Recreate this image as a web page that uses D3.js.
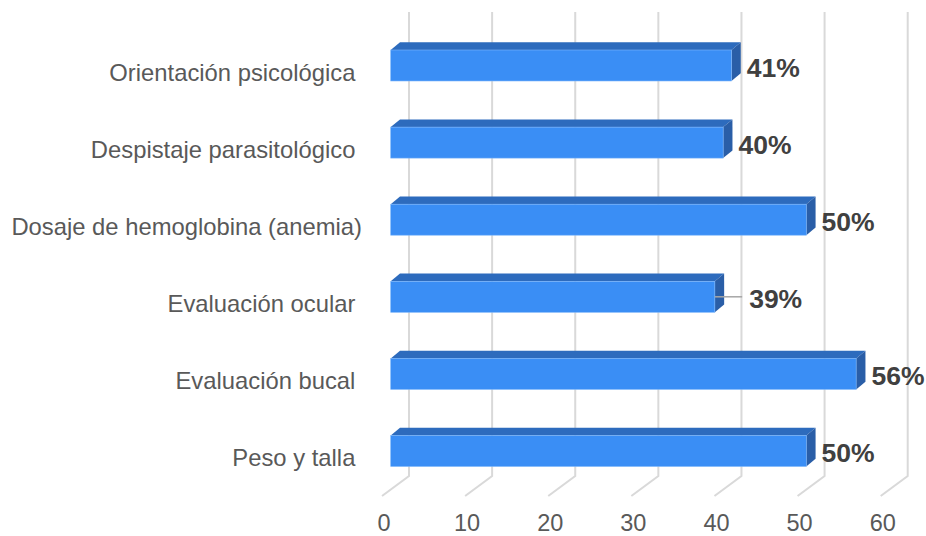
<!DOCTYPE html>
<html>
<head>
<meta charset="utf-8">
<script src="https://cdn.jsdelivr.net/npm/d3@7"></script>
<style>
  html, body { margin: 0; padding: 0; background: #ffffff; }
  svg text { font-family: "Liberation Sans", Arial, sans-serif; white-space: pre; }
</style>
</head>
<body>
<svg id="chart" width="926" height="536"></svg>
<script>
// data
const categories = [
    'Orientación psicológica ',
    'Despistaje parasitológico ',
    'Dosaje de hemoglobina (anemia)',
    'Evaluación ocular ',
    'Evaluación bucal ',
    'Peso y talla '
];
const values = [41, 40, 50, 39, 56, 50];
const valueLabels = ['41%', '40%', '50%', '39%', '56%', '50%'];
const xTicks = [0, 10, 20, 30, 40, 50, 60];

// look
const COLOR_FRONT = '#3a8ef5';
const COLOR_TOP = '#2d6bbd';
const COLOR_SIDE = '#2a5ea7';
const COLOR_GRID = '#d9d9d9';
const COLOR_TEXT = '#595959';
const COLOR_LABEL = '#404040';

// 3d geometry
const FLOOR_Y = 496;
const WALL_DEPTH = { dx: 27, dy: -20 };   // floor diagonal
const BAR_FRONT_DX = 8.7;                 // bar front face sits a bit into the depth
const BAR_DEPTH = { dx: 9.3, dy: -7.7 };  // bar thickness
const GRID_TOP = 12;
const CAT_LABEL_DY = 15;                  // category labels sit on the floor plane, a bit lower
const LEADER_SHIFT = { 'Evaluación ocular ': 19 }; // label pulled out with a leader line

const svg = d3.select('#chart');

const x = d3.scaleLinear()
    .domain([0, 60])
    .range([382, 880.7]);

const y = d3.scaleBand()
    .domain(categories)
    .range([26.95, 489.55])
    .paddingInner(0.598)
    .paddingOuter(0.299);

// gridlines (floor diagonal + back wall vertical)
var grid = svg.append('g').attr('class', 'grid');
grid.selectAll('path')
    .data(xTicks)
    .enter()
    .append('path')
    .attr('d', t => {
        const x0 = x(t), x1 = x(t) + WALL_DEPTH.dx, y1 = FLOOR_Y + WALL_DEPTH.dy;
        return 'M' + x0 + ',' + FLOOR_Y + 'L' + x1 + ',' + y1 + 'L' + x1 + ',' + GRID_TOP;
    })
    .style('fill', 'none')
    .style('stroke', COLOR_GRID)
    .style('stroke-width', 2);

// tick labels
svg.append('g').selectAll('text')
    .data(xTicks)
    .enter()
    .append('text')
    .attr('x', t => x(t) + 2)
    .attr('y', 531)
    .attr('text-anchor', 'middle')
    .style('font-size', '23.5px')
    .style('fill', COLOR_TEXT)
    .text(t => t);

// category labels
svg.append('g').selectAll('text')
    .data(categories)
    .enter()
    .append('text')
    .attr('x', 362)
    .attr('y', d => y(d) + y.bandwidth() / 2 + CAT_LABEL_DY)
    .attr('text-anchor', 'end')
    .style('font-size', '23.8px')
    .style('fill', COLOR_TEXT)
    .text(d => d);

// bars
var rows = categories.map((c, i) => ({ cat: c, value: values[i], label: valueLabels[i] }));

var bars = svg.append('g').selectAll('g')
    .data(rows)
    .enter()
    .append('g');

// top face
bars.append('path')
    .attr('d', d => {
        const xl = x(0) + BAR_FRONT_DX, xr = x(d.value) + BAR_FRONT_DX, yt = y(d.cat);
        return 'M' + xl + ',' + yt + 'L' + (xl + BAR_DEPTH.dx) + ',' + (yt + BAR_DEPTH.dy) +
            'L' + (xr + BAR_DEPTH.dx) + ',' + (yt + BAR_DEPTH.dy) + 'L' + xr + ',' + yt + 'Z';
    })
    .style('fill', COLOR_TOP);

// side face
bars.append('path')
    .attr('d', d => {
        const xr = x(d.value) + BAR_FRONT_DX, yt = y(d.cat), yb = y(d.cat) + y.bandwidth();
        return 'M' + xr + ',' + yt + 'L' + (xr + BAR_DEPTH.dx) + ',' + (yt + BAR_DEPTH.dy) +
            'L' + (xr + BAR_DEPTH.dx) + ',' + (yb + BAR_DEPTH.dy) + 'L' + xr + ',' + yb + 'Z';
    })
    .style('fill', COLOR_SIDE);

// front face
bars.append('rect')
    .attr('x', x(0) + BAR_FRONT_DX)
    .attr('y', d => y(d.cat))
    .attr('width', d => x(d.value) - x(0))
    .attr('height', y.bandwidth())
    .style('fill', COLOR_FRONT)
    .style('stroke', '#7db6fa')
    .style('stroke-width', 0.6);

// leader lines
bars.filter(d => LEADER_SHIFT[d.cat])
    .append('line')
    .attr('x1', d => x(d.value) + BAR_FRONT_DX)
    .attr('x2', d => x(d.value) + BAR_FRONT_DX + BAR_DEPTH.dx + LEADER_SHIFT[d.cat] - 1)
    .attr('y1', d => y(d.cat) + y.bandwidth() / 2)
    .attr('y2', d => y(d.cat) + y.bandwidth() / 2)
    .style('stroke', '#a6a6a6')
    .style('stroke-width', 1.5);

// value labels
bars.append('text')
    .attr('x', d => x(d.value) + BAR_FRONT_DX + BAR_DEPTH.dx + 6 + (LEADER_SHIFT[d.cat] || 0))
    .attr('y', d => y(d.cat) + y.bandwidth() / 2 + 11)
    .style('font-size', '26.5px')
    .style('font-weight', 'bold')
    .style('fill', COLOR_LABEL)
    .text(d => d.label);
</script>
</body>
</html>
